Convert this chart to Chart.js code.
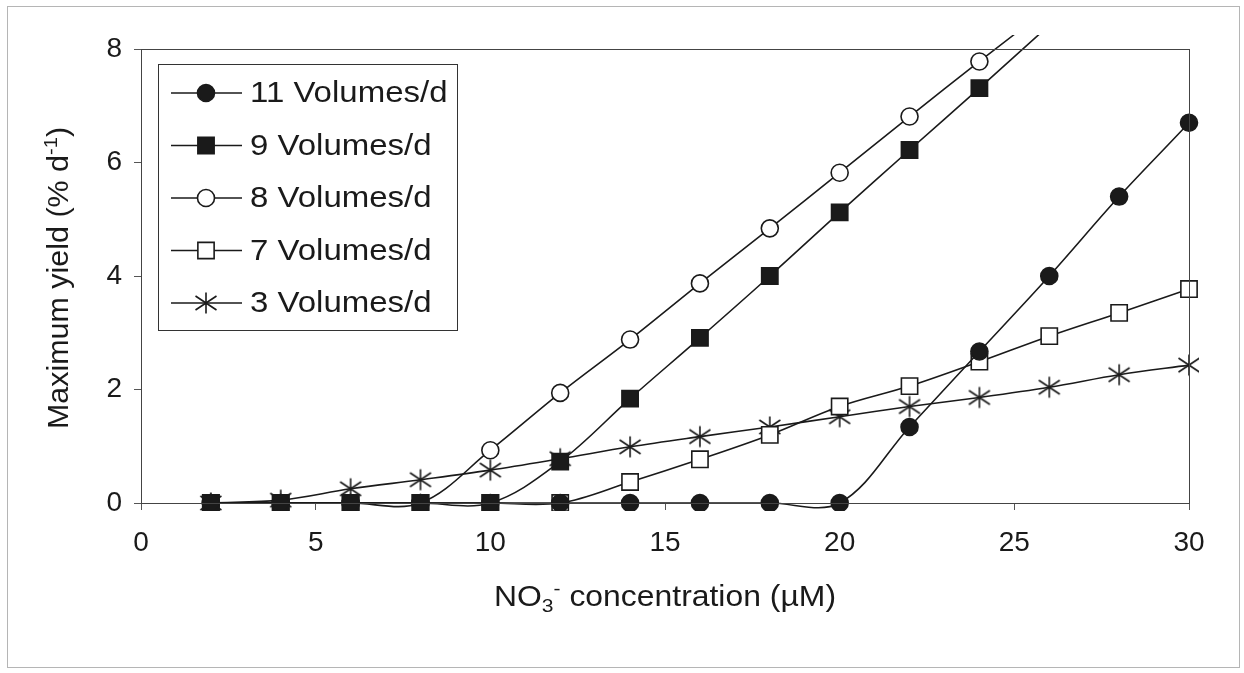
<!DOCTYPE html>
<html>
<head>
<meta charset="utf-8">
<script src="https://cdn.jsdelivr.net/npm/chart.js@4.4.0/dist/chart.umd.min.js"></script>
<style>
  html, body { margin: 0; padding: 0; background: #fff; }
  #wrap { width: 1244px; height: 673px; }
</style>
</head>
<body>
<div id="wrap"><canvas id="mychart" width="1244" height="673"></canvas></div>
<script>
// NO3- concentration (uM)
var concentration = [2, 4, 6, 8, 10, 12, 14, 16, 18, 20, 22, 24, 26, 28, 30, 32];

// maximum yield (% d-1) per flushing rate
// (last values only carry the line a few pixels past the frame, as in the original)
var vol11 = [0, 0, 0, 0, 0, 0, 0, 0, 0, 0, 1.34, 2.67, 4.0, 5.40, 6.70, 8.05];
var vol9  = [0, 0, 0, 0, 0, 0.73, 1.84, 2.91, 4.0, 5.12, 6.22, 7.31, 8.42];
var vol8  = [0, 0, 0, 0, 0.93, 1.94, 2.88, 3.87, 4.84, 5.82, 6.81, 7.78, 8.73];
var vol7  = [0, 0, 0, 0, 0, 0, 0.37, 0.77, 1.20, 1.70, 2.06, 2.49, 2.94, 3.35, 3.77, 4.20];
var vol3  = [0, 0.05, 0.25, 0.41, 0.58, 0.78, 0.99, 1.17, 1.34, 1.52, 1.70, 1.86, 2.04, 2.26, 2.43, 2.60];

var seriesNames = ['11 Volumes/d', '9 Volumes/d', '8 Volumes/d', '7 Volumes/d', '3 Volumes/d'];
var xTicks = [0, 5, 10, 15, 20, 25, 30];
var yTicks = [0, 2, 4, 6, 8];

var FONT = '"Liberation Sans", Arial, Helvetica, sans-serif';
var INK = '#1a1a1a';

// asterisk marker (vertical bar + an X), like the spreadsheet "*" marker
function makeAsterisk() {
  var c = document.createElement('canvas');
  c.width = 24; c.height = 24;
  var g = c.getContext('2d');
  g.strokeStyle = INK;
  g.lineWidth = 1.6;
  g.beginPath();
  g.moveTo(12, 1.5); g.lineTo(12, 22.5);
  g.moveTo(1.5, 5); g.lineTo(22.5, 19);
  g.moveTo(1.5, 19); g.lineTo(22.5, 5);
  g.stroke();
  return c;
}
var asterisk = makeAsterisk();

function pairs(values) {
  return values.map(function (v, i) { return { x: concentration[i], y: v }; });
}

// marker look per series
var markers = [
  { style: 'circle', radius: 8.5, fill: INK },
  { style: 'rect', radius: 11.5, fill: INK },
  { style: 'circle', radius: 8.5, fill: '#ffffff' },
  { style: 'rect', radius: 11.5, fill: '#ffffff' },
  { style: asterisk, radius: 12, fill: INK }
];
var seriesData = [vol11, vol9, vol8, vol7, vol3];

var datasets = seriesData.map(function (vals, i) {
  var m = markers[i];
  return {
    label: seriesNames[i],
    data: pairs(vals),
    borderColor: INK,
    borderWidth: 1.6,
    backgroundColor: m.fill,
    pointStyle: m.style,
    pointRadius: m.radius,
    pointBackgroundColor: m.fill,
    pointBorderColor: INK,
    pointBorderWidth: 1.6,
    tension: 0.35,
    // let the lines run a little past the frame like the original
    clip: { left: 0, top: 14, right: 10, bottom: 8 }
  };
});

// text with sub / superscripts, optionally stretched sideways (the scan is a bit wide)
function drawRich(ctx, parts, x, y, size, stretch) {
  var widths = parts.map(function (p) {
    var s = (p.sub || p.sup) ? size * 0.66 : size;
    ctx.font = s + 'px ' + FONT;
    return ctx.measureText(p.t).width;
  });
  var total = widths.reduce(function (a, b) { return a + b; }, 0);
  ctx.save();
  ctx.translate(x, y);
  ctx.scale(stretch, 1);
  var cx = -total / 2;
  ctx.textBaseline = 'alphabetic';
  ctx.textAlign = 'left';
  parts.forEach(function (p, i) {
    var s = (p.sub || p.sup) ? size * 0.66 : size;
    ctx.font = s + 'px ' + FONT;
    var dy = p.sub ? size * 0.22 : (p.sup ? -size * 0.38 : 0);
    ctx.fillText(p.t, cx, dy);
    cx += widths[i];
  });
  ctx.restore();
}

var decorPlugin = {
  id: 'decor',
  afterDraw: function (chart) {
    var ctx = chart.ctx;
    var a = chart.chartArea;
    ctx.save();

    // outer frame of the figure
    ctx.strokeStyle = '#b5b5b5';
    ctx.lineWidth = 1;
    ctx.strokeRect(7.5, 6.5, 1232, 661);

    // plot frame
    ctx.strokeStyle = '#444';
    ctx.strokeRect(Math.round(a.left) + 0.5, Math.round(a.top) + 0.5,
                   Math.round(a.right - a.left), Math.round(a.bottom - a.top));

    // axis titles
    ctx.fillStyle = INK;
    drawRich(ctx, [{ t: 'NO' }, { t: '3', sub: true }, { t: '-', sup: true },
                   { t: ' concentration (\u00b5M)' }], (a.left + a.right) / 2, 606, 29, 1.1);
    ctx.save();
    ctx.translate(68, (a.top + a.bottom) / 2 + 2);
    ctx.rotate(-Math.PI / 2);
    drawRich(ctx, [{ t: 'Maximum yield (% d' }, { t: '-1', sup: true }, { t: ')' }], 0, 0, 29, 1.05);
    ctx.restore();

    // legend box inside the plot
    var bx = 158.5, by = 64.5, bw = 299, bh = 266;
    ctx.fillStyle = '#fff';
    ctx.fillRect(bx, by, bw, bh);
    ctx.strokeStyle = '#333';
    ctx.strokeRect(bx, by, bw, bh);
    chart.data.datasets.forEach(function (ds, i) {
      var ry = 93 + i * 52.5;
      ctx.strokeStyle = INK;
      ctx.lineWidth = 1.6;
      ctx.beginPath();
      ctx.moveTo(171, ry); ctx.lineTo(242, ry);
      ctx.stroke();
      ctx.fillStyle = ds.pointBackgroundColor;
      Chart.helpers.drawPoint(ctx, {
        pointStyle: ds.pointStyle, radius: ds.pointRadius,
        borderWidth: ds.pointBorderWidth, rotation: 0
      }, 206, ry);
      ctx.save();
      ctx.fillStyle = INK;
      ctx.font = '30px ' + FONT;
      ctx.textAlign = 'left';
      ctx.textBaseline = 'middle';
      ctx.translate(250, ry + 1);
      ctx.scale(1.1, 1);
      ctx.fillText(ds.label, 0, 0);
      ctx.restore();
    });
    ctx.restore();
  }
};

var myChart = document.getElementById('mychart');
var grafica = new Chart(myChart, {
  type: 'line',
  data: { datasets: datasets },
  options: {
    responsive: false,
    devicePixelRatio: 1,
    animation: false,
    layout: { padding: { top: 49, right: 55, left: 0, bottom: 0 } },
    elements: { line: { capBezierPoints: false } },
    plugins: { legend: { display: false }, tooltip: { enabled: false } },
    scales: {
      x: {
        type: 'linear',
        min: 0, max: 30,
        afterFit: function (s) { s.height = 170; },
        afterBuildTicks: function (s) { s.ticks = xTicks.map(function (v) { return { value: v }; }); },
        border: { display: true, color: '#444', width: 1 },
        grid: { drawOnChartArea: false, drawTicks: true, tickLength: 7, color: '#555' },
        ticks: { color: INK, font: { family: FONT, size: 28 }, padding: 16, maxRotation: 0 }
      },
      y: {
        type: 'linear',
        min: 0, max: 8,
        afterFit: function (s) { s.width = 141; },
        afterBuildTicks: function (s) { s.ticks = yTicks.map(function (v) { return { value: v }; }); },
        border: { display: true, color: '#444', width: 1 },
        grid: { drawOnChartArea: false, drawTicks: true, tickLength: 7, color: '#555' },
        ticks: { color: INK, font: { family: FONT, size: 28 }, padding: 12 }
      }
    }
  },
  plugins: [decorPlugin]
});
</script>
</body>
</html>
